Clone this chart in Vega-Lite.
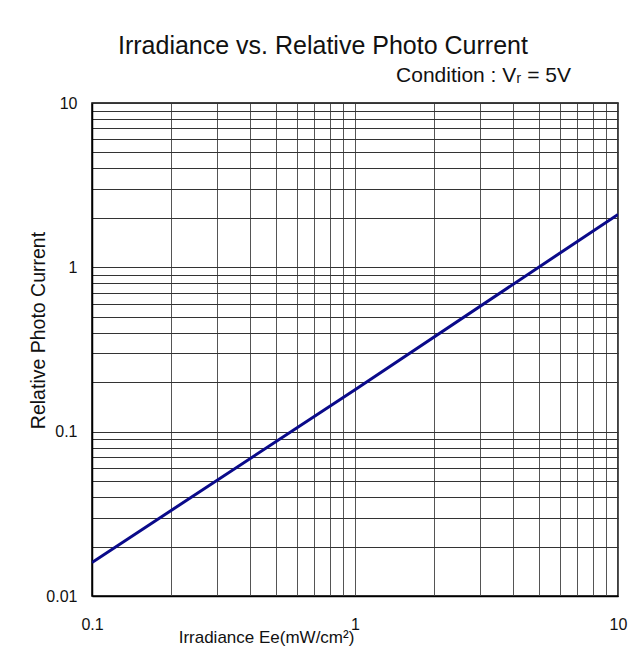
{
  "$schema": "https://vega.github.io/schema/vega-lite/v6.json",
  "autosize": {"type": "none"},
  "width": 526,
  "height": 493,
  "padding": {"left": 92, "top": 103, "right": 17, "bottom": 69},
  "background": "white",
  "config": {
    "font": "Liberation Sans",
    "view": {"stroke": "black", "strokeWidth": 1.5},
    "axis": {"labelFont": "Liberation Sans", "titleFont": "Liberation Sans", "labelColor": "#111", "titleColor": "#111", "titleFontWeight": "normal"}
  },
  "title": {
    "text": "Irradiance vs. Relative Photo Current",
    "anchor": "start",
    "frame": "group",
    "dx": 26,
    "dy": 25,
    "offset": 10,
    "baseline": "alphabetic",
    "fontSize": 25,
    "fontWeight": "normal",
    "font": "Liberation Sans",
    "color": "#111"
  },
  "data": {
    "values": [
      {"irradiance": 0.1, "current": 0.016},
      {"irradiance": 1, "current": 0.18},
      {"irradiance": 10, "current": 2.1}
    ]
  },
  "resolve": {"axis": {"x": "independent"}},
  "layer": [
    {
      "mark": {"type": "line", "color": "#0a0a8a", "strokeWidth": 3, "clip": true},
      "encoding": {
        "x": {
          "field": "irradiance", "type": "quantitative",
          "scale": {"type": "log", "domain": [0.1, 10], "nice": false},
          "axis": {
            "values": [0.1,0.2,0.3,0.4,0.5,0.6,0.7,0.8,0.9,1,2,3,4,5,6,7,8,9,10],
            "format": "~g",
            "labelExpr": "(datum.value == 0.1 || datum.value == 1 || datum.value == 10) ? datum.label : ''",
            "labelOverlap": false, "labelBound": false, "labelFlush": false,
            "labelFontSize": 16, "labelPadding": 20, "labelBaseline": "top",
            "ticks": false, "domain": true, "domainColor": "black", "domainWidth": 1.5,
            "grid": true, "gridColor": "#555", "gridWidth": 1, "gridOpacity": 1,
            "title": "Irradiance Ee(mW/cm²)",
            "titleFontSize": 17, "titleX": 174, "titleY": 46, "titleAlign": "center", "titleBaseline": "alphabetic"
          }
        },
        "y": {
          "field": "current", "type": "quantitative",
          "scale": {"type": "log", "domain": [0.01, 10], "nice": false},
          "axis": {
            "values": [0.01,0.02,0.03,0.04,0.05,0.06,0.07,0.08,0.09,0.1,0.2,0.3,0.4,0.5,0.6,0.7,0.8,0.9,1,2,3,4,5,6,7,8,9,10],
            "format": "~g",
            "labelExpr": "(datum.value == 0.01 || datum.value == 0.1 || datum.value == 1 || datum.value == 10) ? datum.label : ''",
            "labelOverlap": false, "labelBound": false, "labelFlush": false,
            "labelFontSize": 16, "labelPadding": 15,
            "ticks": false, "domain": true, "domainColor": "black", "domainWidth": 1.5,
            "grid": true, "gridColor": "#333", "gridWidth": 1, "gridOpacity": 1,
            "title": "Relative Photo Current",
            "titleFontSize": 19.5, "titleX": -54, "titleY": 227, "titleAlign": "center", "titleBaseline": "middle", "titleAngle": -90
          }
        }
      }
    },
    {
      "mark": {"type": "line", "opacity": 0},
      "encoding": {
        "x": {
          "field": "irradiance", "type": "quantitative",
          "scale": {"type": "log", "domain": [0.1, 10], "nice": false},
          "axis": {
            "orient": "top", "labels": false, "ticks": false, "domain": false, "grid": false,
            "title": "Condition :  Vᵣ = 5V",
            "titleFontSize": 21, "titleX": 391, "titleY": -22, "titleAlign": "center", "titleBaseline": "alphabetic"
          }
        },
        "y": {"field": "current", "type": "quantitative", "scale": {"type": "log", "domain": [0.01, 10], "nice": false}}
      }
    }
  ]
}
